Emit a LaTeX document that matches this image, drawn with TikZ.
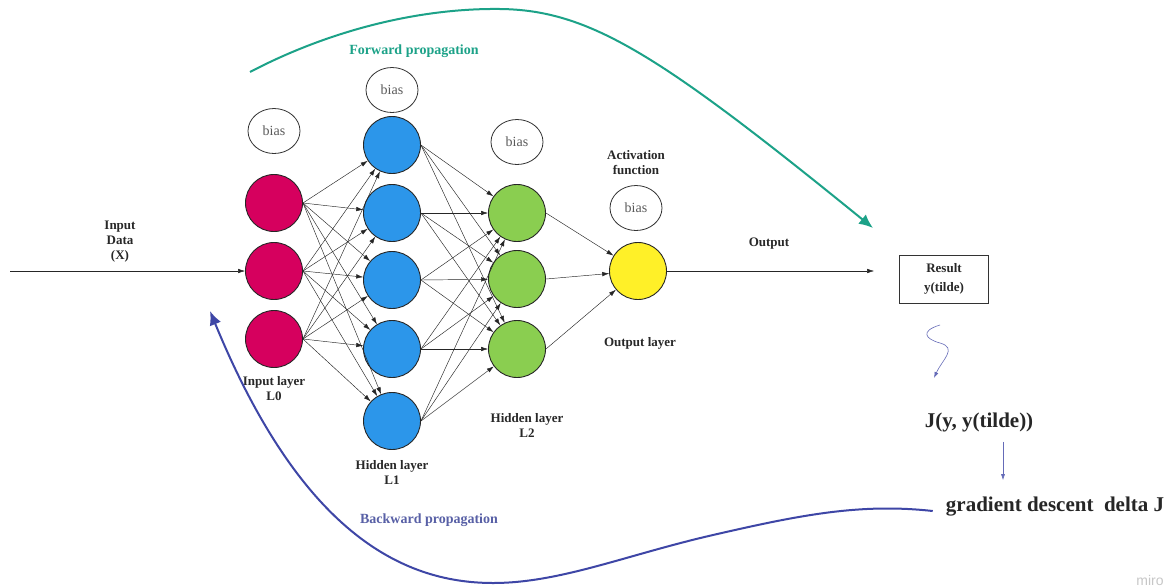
\documentclass[tikz,border=0pt]{standalone}
\usepackage{fontspec}
\setmainfont{Liberation Serif}
\setsansfont{Liberation Sans}
\usetikzlibrary{arrows.meta,calc,shapes.geometric}
\definecolor{pinkN}{RGB}{214,0,94}
\definecolor{blueN}{RGB}{44,150,234}
\definecolor{greenN}{RGB}{138,206,80}
\definecolor{yellowN}{RGB}{255,240,40}
\definecolor{fwd}{RGB}{28,162,136}
\definecolor{bwd}{RGB}{62,70,166}
\definecolor{bwdtext}{RGB}{88,96,166}
\definecolor{txt}{RGB}{40,40,40}
\definecolor{biastxt}{RGB}{90,90,90}
\begin{document}
\begin{tikzpicture}[x=1pt,y=-1pt,
  neuron/.style={circle,draw=black!85,line width=0.9pt,minimum size=57pt,inner sep=0pt},
  biasnode/.style={ellipse,draw=black!80,line width=0.8pt,minimum width=52pt,minimum height=45pt,inner sep=0pt,
    font=\fontsize{14}{16}\selectfont,text=biastxt},
  lbl/.style={font=\bfseries\fontsize{13}{15}\selectfont,text=txt,align=center,inner sep=0pt},
  conn/.style={line width=0.45pt,draw=black!85,-{Latex[length=7pt,width=4.5pt]}},
  bigtxt/.style={font=\bfseries\fontsize{21}{24}\selectfont,text=black!85,inner sep=0pt},
  thinblue/.style={line width=0.6pt,draw=bwd!80,-{Latex[length=6pt,width=4pt]}},
  bigarrow/.style={line width=2pt,-{Latex[length=14pt,width=12pt]}},
]
\useasboundingbox (0,0) rectangle (1173,587);
\fill[white] (0,0) rectangle (1173,587);

% input layer
\foreach \i/\y in {1/203,2/271,3/339}
  \node[neuron,fill=pinkN] (a\i) at (274,\y) {};
% hidden layer 1
\foreach \i/\y in {1/145,2/213,3/280,4/349,5/421}
  \node[neuron,fill=blueN] (b\i) at (392,\y) {};
% hidden layer 2
\foreach \i/\y in {1/213,2/279,3/349}
  \node[neuron,fill=greenN] (c\i) at (517,\y) {};
% output neuron
\node[neuron,fill=yellowN] (o) at (638,271) {};

% bias nodes
\node[biasnode] (bias0) at (274,131) {bias};
\node[biasnode] (bias1) at (392,90) {bias};
\node[biasnode] (bias2) at (517,142) {bias};
\node[biasnode] (bias3) at (636,208) {bias};

% connections
\foreach \i in {1,2,3}
  \foreach \j in {1,...,5}
    \draw[conn] (a\i.east) -- (b\j);
\foreach \i in {1,...,5}
  \foreach \j in {1,2,3}
    \draw[conn] (b\i.east) -- (c\j);
\foreach \i in {1,2,3}
  \draw[conn] (c\i.east) -- (o);

% labels
\node[lbl] (lin) at (120,242) {Input\\Data\\(X)};
\node[lbl] (l0) at (274,389) {Input layer\\L0};
\node[lbl] (l1) at (392,472) {Hidden layer\\L1};
\node[lbl] (l2) at (527,425) {Hidden layer\\L2};
\node[lbl] (lact) at (636,163) {Activation\\function};
\node[lbl] (lout) at (769,244) {Output};
\node[lbl] (lol) at (640,343) {Output layer};

% input arrow
\coordinate (xin) at (10,271);
\draw[conn] (xin) -- (a2);

% result box
\node[draw=black!80,line width=0.8pt,minimum width=89pt,minimum height=48pt,align=center,
  font=\bfseries\fontsize{13}{19}\selectfont,text=txt,inner sep=0pt] (res) at (944,279) {Result\\y(tilde)};
\draw[conn,shorten >=25pt] (o) -- (o -| res.west);

% cost and gradient
\node[bigtxt] (J) at (979,422) {J(y, y(tilde))};
\node[bigtxt] (grad) at (1055,507) {gradient descent\ \ delta J};
\draw[thinblue,shorten <=10pt,shorten >=17pt] ([xshift=24pt]J.south) -- ([xshift=-52pt]grad.north);

% squiggle
\coordinate (sq0) at (940,325);
\coordinate (sq1) at (940,343);
\coordinate (sq2) at (934,378);
\draw[thinblue] (sq0) .. controls (920,331) and (925,339) .. (sq1)
  .. controls (958,348) and (942,360) .. (sq2);

% forward propagation
\coordinate (f0) at (250,72);
\coordinate (fp) at (500,9);
\coordinate (f1) at (873,228);
\draw[bigarrow,draw=fwd,fill=none] (f0) .. controls (330,30) and (420,8) .. (fp)
  .. controls (590,10) and (660,55) .. (f1);
\node[font=\bfseries\fontsize{14}{16}\selectfont,text=fwd,inner sep=0pt] (fl) at (414,51) {Forward propagation};

% backward propagation
\coordinate (bk0) at ([xshift=-13pt,yshift=-4pt]grad.west);
\coordinate (bkm) at (713,535);
\coordinate (bkb) at (493,583);
\coordinate (bk1) at (210,311);
\draw[bigarrow,draw=bwd] (bk0) .. controls (860,503) and (800,515) .. (bkm)
  .. controls (626,555) and (560,583) .. (bkb)
  .. controls (400,583) and (300,530) .. (bk1);
\node[font=\bfseries\fontsize{14}{16}\selectfont,text=bwdtext,inner sep=0pt] (bl) at (429,520) {Backward propagation};

% watermark
\node[font=\sffamily\fontsize{14}{16}\selectfont,text=black!22,inner sep=0pt] (miro) at (1150,580) {miro};
\end{tikzpicture}
\end{document}
